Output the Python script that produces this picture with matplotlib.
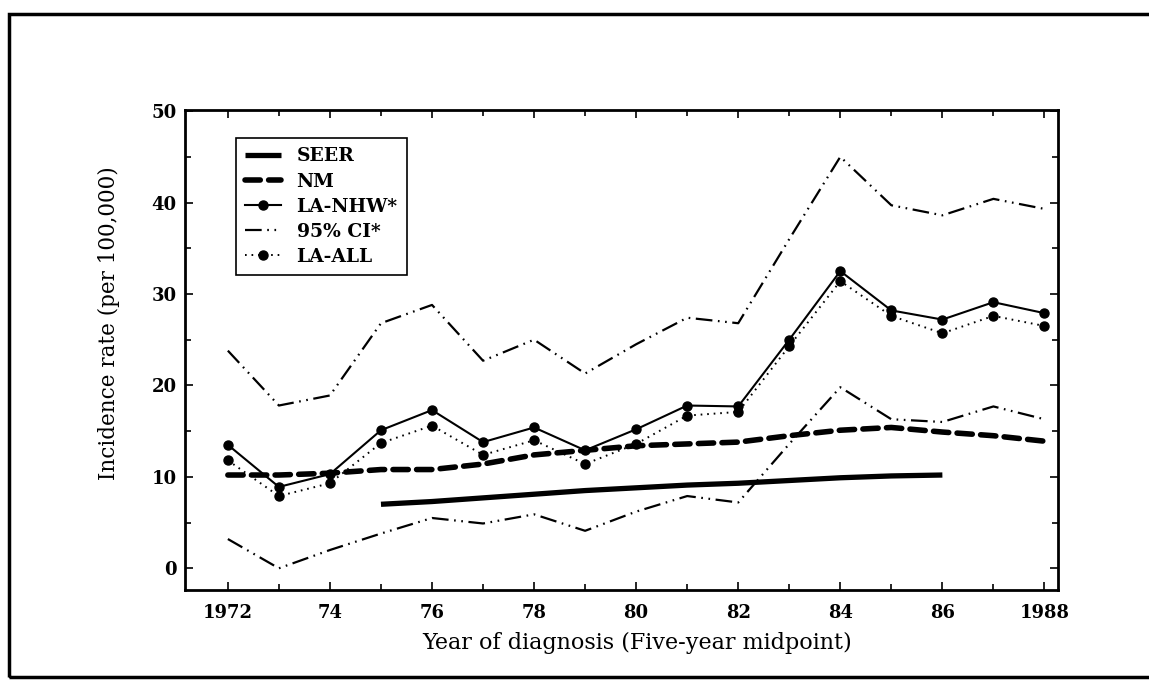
import numpy as np
import matplotlib
matplotlib.use("Agg")
import matplotlib.pyplot as plt
from matplotlib.patches import Rectangle

# values
years = list(range(1972, 1989))
seer_years = list(range(1975, 1987))
seer = [7.0, 7.3, 7.7, 8.1, 8.5, 8.8, 9.1, 9.3, 9.6, 9.9, 10.1, 10.2]
nm = [10.2, 10.2, 10.4, 10.8, 10.8, 11.4, 12.4, 12.9, 13.4, 13.6, 13.8, 14.5, 15.1, 15.4, 14.9, 14.5, 13.9]
la_nhw = [13.5, 8.9, 10.3, 15.1, 17.3, 13.8, 15.4, 12.9, 15.2, 17.8, 17.7, 25.0, 32.5, 28.2, 27.2, 29.1, 27.9]
ci_upper = [23.8, 17.8, 18.9, 26.8, 28.8, 22.7, 25.0, 21.3, 24.5, 27.4, 26.8, 36.0, 45.0, 39.7, 38.6, 40.4, 39.3]
ci_lower = [3.2, 0.0, 2.0, 3.8, 5.5, 4.9, 5.9, 4.1, 6.2, 7.9, 7.2, 13.6, 19.8, 16.3, 16.0, 17.7, 16.3]
la_all = [11.8, 7.9, 9.3, 13.7, 15.6, 12.4, 14.0, 11.4, 13.6, 16.7, 17.1, 24.3, 31.4, 27.6, 25.7, 27.6, 26.5]

xtick_pos = list(range(1972, 1989, 2))
xtick_lab = ['1972', '74', '76', '78', '80', '82', '84', '86', '1988']

plt.rcParams['font.family'] = ['DejaVu Serif']
plt.rcParams['lines.scale_dashes'] = False

fig = plt.figure(figsize=(11.49, 6.8), dpi=100)
ax = fig.add_axes([0.161, 0.132, 0.760, 0.706])

ax.plot(seer_years, seer, color='black', lw=3.8, solid_capstyle='butt', label='SEER')
ax.plot(years, nm, color='black', lw=4.0, dashes=(11, 6), dash_capstyle='round', label='NM')
ax.plot(years, la_nhw, color='black', lw=1.5, marker='o', ms=6.5, label='LA-NHW*')
ax.plot(years, ci_upper, color='black', lw=1.6, dashes=(12, 4, 1.2, 4, 1.2, 4), label='95% CI*')
ax.plot(years, ci_lower, color='black', lw=1.6, dashes=(12, 4, 1.2, 4, 1.2, 4))
ax.plot(years, la_all, color='black', lw=1.4, dashes=(1.2, 3.5), marker='o', ms=6.5, label='LA-ALL')

ax.set_xlim(1971.16, 1988.27)
ax.set_ylim(-2.4, 50.1)
ax.set_xticks(xtick_pos)
ax.set_xticklabels(xtick_lab)
ax.set_xticks(years, minor=True)
ax.set_yticks([0, 10, 20, 30, 40, 50])
ax.set_yticks([5, 15, 25, 35, 45], minor=True)
ax.tick_params(which='both', direction='in', top=True, right=True, width=1.2)
ax.tick_params(which='major', length=6)
ax.tick_params(which='minor', length=4)
ax.tick_params(axis='x', which='major', pad=10, labelsize=13)
ax.tick_params(axis='y', which='major', pad=6, labelsize=13)
for t in ax.get_xticklabels() + ax.get_yticklabels():
    t.set_fontweight('bold')
for s in ax.spines.values():
    s.set_linewidth(2)

ax.set_xlabel('Year of diagnosis (Five-year midpoint)', fontsize=16)
ax.set_ylabel('Incidence rate (per 100,000)', fontsize=15.5)
ax.xaxis.set_label_coords(0.518, -0.0875)
ax.yaxis.set_label_coords(-0.0745, 0.556)

leg = ax.legend(loc='upper left', bbox_to_anchor=(0.058, 0.942), borderaxespad=0,
                fancybox=False, edgecolor='black', framealpha=1, handlelength=1.9,
                handletextpad=0.85, labelspacing=0.38, borderpad=0.5,
                prop={'size': 13.5, 'weight': 'bold'})
leg.get_frame().set_linewidth(1.2)

# outer frame of the scanned figure
fig.patches.append(Rectangle((0.008, 0.004), 1.2, 0.975, transform=fig.transFigure,
                             fill=False, edgecolor='black', lw=2.5))

fig.savefig('out.png', dpi=100)
